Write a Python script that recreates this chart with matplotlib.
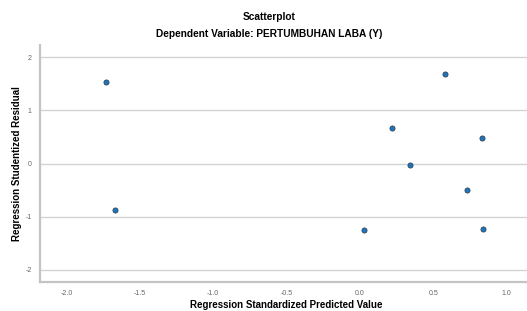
import matplotlib.pyplot as plt

plt.rcParams['font.family'] = ['Liberation Sans', 'DejaVu Sans']

# predicted (standardized) vs studentized residual
pred = [-1.73, -1.67, 0.58, 0.22, 0.83, 0.34, 0.73, 0.03, 0.84]
resid = [1.53, -0.87, 1.69, 0.67, 0.49, -0.02, -0.50, -1.25, -1.23]

x_ticks = [-2.0, -1.5, -1.0, -0.5, 0.0, 0.5, 1.0]
y_ticks = [-2, -1, 0, 1, 2]

fig = plt.figure(figsize=(5.27, 3.11), dpi=100)
ax = fig.add_axes([0.076, 0.093, 0.924, 0.762])

ax.scatter(pred, resid, s=14, color='#1f74bd', edgecolors='#2b3a4a',
           linewidths=0.5, zorder=3)

ax.set_xlim(-2.18, 1.14)
ax.set_ylim(-2.23, 2.23)
ax.set_xticks(x_ticks)
ax.set_xticklabels([f'{v:.1f}' for v in x_ticks])
ax.set_yticks(y_ticks)
ax.set_yticklabels([str(v) for v in y_ticks])
ax.tick_params(length=0, labelsize=5, colors='#666666', pad=6)
ax.yaxis.grid(True, color='#d4d4d4', linewidth=1)
ax.set_axisbelow(True)

for side in ['top', 'right']:
    ax.spines[side].set_visible(False)
for side in ['left', 'bottom']:
    ax.spines[side].set_color('#c4c4c4')
    ax.spines[side].set_linewidth(1.6)

fig.text(0.543, 0.018, 'Regression Standardized Predicted Value',
         ha='center', va='center', fontsize=7, fontweight='bold')
fig.text(0.032, 0.474, 'Regression Studentized Residual', ha='center',
         va='center', rotation=90, fontsize=7, fontweight='semibold')

fig.text(0.511, 0.945, 'Scatterplot', ha='center', va='center',
         fontsize=7.3, fontweight='bold')
fig.text(0.511, 0.89, 'Dependent Variable: PERTUMBUHAN LABA (Y)',
         ha='center', va='center', fontsize=7.3, fontweight='semibold')

fig.savefig('out.png', dpi=100)
